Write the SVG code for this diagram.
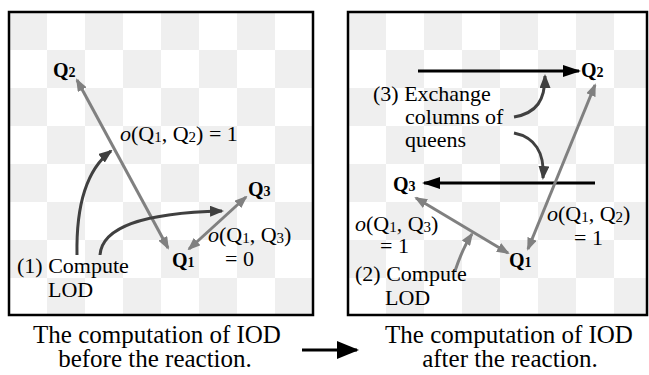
<svg xmlns="http://www.w3.org/2000/svg" width="649" height="375" viewBox="0 0 649 375" font-family="'Liberation Serif', 'DejaVu Serif', serif">
<style>
text{font-family:"Liberation Serif","DejaVu Serif",serif;fill:#000}
.lbl{font-size:22px}
.q{font-size:20px;font-weight:bold}
.qs{font-size:14px}
.s{font-size:15px}
.cap{font-size:25px}
.box{stroke:#000;stroke-width:2.5}
.g{stroke:#808080;stroke-width:3;fill:none;marker-start:url(#ag);marker-end:url(#ag)}
.d{stroke:#404040;stroke-width:3;fill:none;marker-end:url(#ad)}
.dg{stroke:#808080;stroke-width:3;fill:none;marker-end:url(#ag)}
.k{stroke:#000;stroke-width:3;fill:none;marker-end:url(#ak)}
</style>
<defs>
<pattern id="cbL" patternUnits="userSpaceOnUse" x="9" y="12" width="76" height="76">
<rect width="76" height="76" fill="#fff"/>
<rect width="38" height="38" fill="#efefef"/>
<rect x="38" y="38" width="38" height="38" fill="#efefef"/>
</pattern>
<pattern id="cbR" patternUnits="userSpaceOnUse" x="348" y="12" width="76" height="76">
<rect width="76" height="76" fill="#fff"/>
<rect width="38" height="38" fill="#efefef"/>
<rect x="38" y="38" width="38" height="38" fill="#efefef"/>
</pattern>
<marker id="ag" markerUnits="userSpaceOnUse" viewBox="0 0 13 10" refX="11" refY="5" markerWidth="13" markerHeight="10" orient="auto-start-reverse">
<path d="M0,0 L13,5 L0,10 z" fill="#808080"/>
</marker>
<marker id="ad" markerUnits="userSpaceOnUse" viewBox="0 0 14 11" refX="12" refY="5.5" markerWidth="14" markerHeight="11" orient="auto">
<path d="M0,0 L14,5.5 L0,11 z" fill="#404040"/>
</marker>
<marker id="ak" markerUnits="userSpaceOnUse" viewBox="0 0 18 12" refX="16" refY="6" markerWidth="18" markerHeight="12" orient="auto">
<path d="M0,0 L18,6 L0,12 z" fill="#000"/>
</marker>
<marker id="am" markerUnits="userSpaceOnUse" viewBox="0 0 22 18" refX="20" refY="9" markerWidth="22" markerHeight="18" orient="auto">
<path d="M0,0 L22,9 L0,18 z" fill="#000"/>
</marker>
</defs>

<g id="board-before">
<rect class="box" x="9" y="12" width="304" height="303" fill="url(#cbL)"/>
</g>
<g id="board-after">
<rect class="box" x="348" y="12" width="299" height="303" fill="url(#cbR)"/>
</g>

<g id="connectors">
<line class="g" x1="77" y1="80" x2="168" y2="248"/>
<line class="g" x1="189" y1="249" x2="246" y2="197"/>
<path class="d" d="M77,255 C76,205 86,170 111,151"/>
<path class="d" d="M100,255 C102,228 140,213 222,211"/>
<line class="k" x1="418" y1="71" x2="579" y2="71"/>
<line class="k" x1="595" y1="183" x2="424" y2="183"/>
<line class="g" x1="595" y1="85" x2="528" y2="249"/>
<line class="g" x1="416" y1="198" x2="508" y2="253"/>
<path class="d" d="M514,117 C537,113 545,100 545,76"/>
<path class="d" d="M514,133 C534,137 545,152 543,178"/>
<path class="dg" d="M455,271 C459,259 464,246 472,234"/>
<line stroke="#000" stroke-width="3" x1="302" y1="350" x2="357" y2="350" marker-end="url(#am)"/>
</g>

<g id="node-Q1-before"><text class="q" x="172" y="267">Q<tspan class="qs">1</tspan></text></g>
<g id="node-Q2-before"><text class="q" x="53" y="77">Q<tspan class="qs">2</tspan></text></g>
<g id="node-Q3-before"><text class="q" x="248" y="196">Q<tspan class="qs">3</tspan></text></g>
<g id="label-o12-before"><text class="lbl" x="120" y="141"><tspan font-style="italic">o</tspan>(Q<tspan class="s" dy="1">1</tspan><tspan dy="-1">, Q</tspan><tspan class="s" dy="1">2</tspan><tspan dy="-1">) = 1</tspan></text></g>
<g id="label-o13-before"><text class="lbl" x="208" y="242"><tspan font-style="italic">o</tspan>(Q<tspan class="s" dy="1">1</tspan><tspan dy="-1">, Q</tspan><tspan class="s" dy="1">3</tspan><tspan dy="-1">)</tspan></text>
<text class="lbl" x="225" y="266">= 0</text></g>
<g id="label-step1"><text class="lbl" x="17" y="273">(1) Compute</text><text class="lbl" x="48" y="297">LOD</text></g>

<g id="node-Q1-after"><text class="q" x="509" y="267">Q<tspan class="qs">1</tspan></text></g>
<g id="node-Q2-after"><text class="q" x="581" y="77">Q<tspan class="qs">2</tspan></text></g>
<g id="node-Q3-after"><text class="q" x="393" y="191">Q<tspan class="qs">3</tspan></text></g>
<g id="label-step3"><text class="lbl" x="373" y="101">(3) Exchange</text><text class="lbl" x="405" y="124">columns of</text><text class="lbl" x="405" y="147">queens</text></g>
<g id="label-o13-after"><text class="lbl" x="355" y="231"><tspan font-style="italic">o</tspan>(Q<tspan class="s" dy="1">1</tspan><tspan dy="-1">, Q</tspan><tspan class="s" dy="1">3</tspan><tspan dy="-1">)</tspan></text>
<text class="lbl" x="380" y="253">= 1</text></g>
<g id="label-o12-after"><text class="lbl" x="547" y="221"><tspan font-style="italic">o</tspan>(Q<tspan class="s" dy="1">1</tspan><tspan dy="-1">, Q</tspan><tspan class="s" dy="1">2</tspan><tspan dy="-1">)</tspan></text>
<text class="lbl" x="574" y="245">= 1</text></g>
<g id="label-step2"><text class="lbl" x="355" y="281">(2) Compute</text><text class="lbl" x="385" y="305">LOD</text></g>

<g id="caption-before"><text class="cap" x="157" y="343" text-anchor="middle">The computation of IOD</text><text class="cap" x="155" y="367" text-anchor="middle">before the reaction.</text></g>
<g id="caption-after"><text class="cap" x="509" y="343" text-anchor="middle">The computation of IOD</text><text class="cap" x="510" y="367" text-anchor="middle">after the reaction.</text></g>
</svg>
